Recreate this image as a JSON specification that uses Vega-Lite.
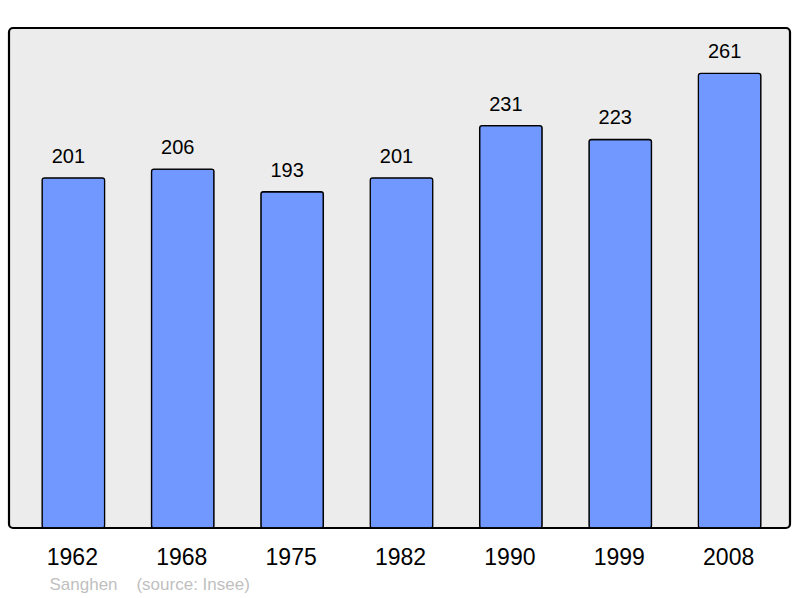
{
  "$schema": "https://vega.github.io/schema/vega-lite/v6.json",
  "width": 781,
  "height": 500,
  "autosize": {"type": "none"},
  "padding": {"left": 9, "top": 28, "right": 10, "bottom": 70},
  "background": "#ffffff",
  "config": {
    "view": {"fill": "#ececec", "stroke": "#000000", "strokeWidth": 2.2, "cornerRadius": 4},
    "font": "Liberation Sans"
  },
  "data": {
    "values": [
      {"year": "1962", "population": 201},
      {"year": "1968", "population": 206},
      {"year": "1975", "population": 193},
      {"year": "1982", "population": 201},
      {"year": "1990", "population": 231},
      {"year": "1999", "population": 223},
      {"year": "2008", "population": 261}
    ]
  },
  "encoding": {
    "x": {
      "field": "year",
      "type": "nominal",
      "sort": null,
      "scale": {"paddingInner": 0.4286, "paddingOuter": 0.2845, "range": [2, 783]},
      "axis": {
        "title": "Sanghen\u00a0\u00a0\u00a0\u00a0(source: Insee)",
        "titleAnchor": "start",
        "titleAlign": "left",
        "titleBaseline": "alphabetic",
        "titleX": 40,
        "titleY": 61,
        "titleFontSize": 17,
        "titleFontWeight": "normal",
        "titleColor": "#bfbfbf",
        "labelAngle": 0,
        "labelFontSize": 23,
        "labelColor": "#000000",
        "labelBaseline": "alphabetic",
        "labelPadding": 36,
        "labelOffset": -1,
        "ticks": false,
        "tickSize": 0,
        "domain": false,
        "grid": false
      }
    },
    "y": {
      "field": "population",
      "type": "quantitative",
      "scale": {"domain": [0, 287], "nice": false, "zero": true},
      "axis": null
    }
  },
  "layer": [
    {
      "mark": {"type": "bar", "fill": "#7098ff", "stroke": "#000000", "strokeWidth": 1.3, "cornerRadius": 2.5}
    },
    {
      "mark": {"type": "text", "baseline": "alphabetic", "dy": -15, "dx": -5, "fontSize": 20, "color": "#000000"},
      "encoding": {"text": {"field": "population", "type": "quantitative"}}
    }
  ]
}
